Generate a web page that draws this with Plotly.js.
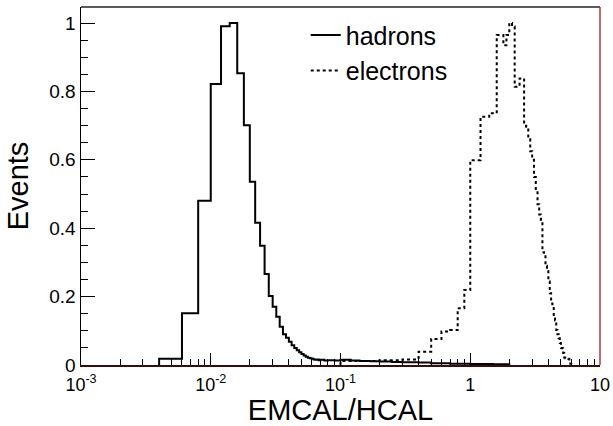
<!DOCTYPE html>
<html>
<head>
<meta charset="utf-8">
<script src="https://cdn.plot.ly/plotly-3.0.1.min.js"></script>
<style>
  html, body { margin: 0; padding: 0; background: #fff; }
  #chart { width: 613px; height: 426px; }
</style>
</head>
<body>
<div id="chart"></div>
<script>
// ---- data ----
var seriesNames = ["hadrons", "electrons"];

var hadronEdges = [0.004, 0.006, 0.008, 0.010, 0.012, 0.014, 0.016, 0.018, 0.020, 0.022,
  0.024, 0.026, 0.028, 0.030, 0.032, 0.034, 0.036, 0.038, 0.040, 0.042,
  0.044, 0.046, 0.048, 0.050, 0.052, 0.054, 0.056, 0.058, 0.060, 0.062,
  0.064, 0.066, 0.068, 0.070, 0.075, 0.080, 0.090, 0.100, 0.12, 0.14,
  0.17, 0.20, 0.25, 0.30, 0.40, 0.50, 0.70, 1.0, 1.5, 2.0];
var hadronCounts = [0.018, 0.151, 0.480, 0.822, 0.991, 1.000, 0.853, 0.701, 0.536, 0.416,
  0.349, 0.266, 0.202, 0.170, 0.141, 0.112, 0.090, 0.080, 0.068, 0.058,
  0.050, 0.043, 0.037, 0.032, 0.028, 0.024, 0.021, 0.020, 0.018, 0.016,
  0.015, 0.016, 0.014, 0.015, 0.013, 0.014, 0.013, 0.015, 0.013, 0.012,
  0.011, 0.010, 0.009, 0.008, 0.007, 0.005, 0.004, 0.003, 0.002];

var electronEdges = [0.1, 0.2, 0.3, 0.4, 0.5, 0.6, 0.7, 0.8, 0.9, 1.0,
  1.1, 1.2, 1.3, 1.4, 1.5, 1.6, 1.7, 1.8, 1.9, 2.0,
  2.1, 2.2, 2.3, 2.4, 2.5, 2.6, 2.7, 2.8, 2.9, 3.0,
  3.1, 3.2, 3.3, 3.4, 3.5, 3.6, 3.7, 3.8, 3.9, 4.0,
  4.1, 4.2, 4.3, 4.4, 4.5, 4.6, 4.7, 4.8, 4.9, 5.0,
  5.1, 5.2, 5.3, 5.4, 5.5, 5.6, 5.7, 5.8, 5.9, 6.0];
var electronCounts = [0.012, 0.014, 0.016, 0.039, 0.076, 0.098, 0.102, 0.166, 0.219,
  0.599, 0.599, 0.726, 0.726, 0.736, 0.736, 0.965, 0.965, 0.935, 0.965,
  1.000, 0.990, 0.814, 0.814, 0.838, 0.838, 0.700, 0.697, 0.660, 0.625,
  0.600, 0.550, 0.515, 0.470, 0.440, 0.425, 0.330, 0.322, 0.290, 0.280,
  0.244, 0.210, 0.180, 0.170, 0.136, 0.130, 0.102, 0.090, 0.078, 0.064,
  0.050, 0.049, 0.035, 0.022, 0.020, 0.020, 0.020, 0.018, 0.008, 0.004];

var xTickVals = [0.001, 0.01, 0.1, 1, 10];
var xTickText = ["10<sup>-3</sup>", "10<sup>-2</sup>", "10<sup>-1</sup>", "1", "10"];
var yTickVals = [0, 0.2, 0.4, 0.6, 0.8, 1];
var yTickText = ["0", "0.2", "0.4", "0.6", "0.8", "1"];

// build step outline (ROOT-like histogram) from edges and bin contents
function stepOutline(edges, counts) {
  var xs = [edges[0]], ys = [0];
  for (var i = 0; i < counts.length; i++) { xs.push(edges[i]); ys.push(counts[i]); }
  xs.push(edges[edges.length - 1]); ys.push(0);
  return {x: xs, y: ys};
}

var h = stepOutline(hadronEdges, hadronCounts);
var e = stepOutline(electronEdges, electronCounts);

var FONT = "Liberation Sans, Arial, Helvetica, sans-serif";

var traces = [
  {x: h.x, y: h.y, type: "scatter", mode: "lines", name: seriesNames[0],
   line: {shape: "hv", color: "#000", width: 2}},
  {x: e.x, y: e.y, type: "scatter", mode: "lines", name: seriesNames[1],
   line: {shape: "hv", color: "#000", width: 2, dash: "3px,3px"}}
];

var layout = {
  width: 613, height: 426,
  margin: {l: 81, r: 13, t: 7, b: 61, pad: 0},
  paper_bgcolor: "#fff", plot_bgcolor: "#fff",
  font: {family: FONT, color: "#000"},
  showlegend: true,
  legend: {x: 0.433, y: 0.985, xanchor: "left", yanchor: "top",
           bgcolor: "rgba(0,0,0,0)", font: {size: 25, family: FONT},
           tracegroupgap: 0, itemwidth: 30},
  xaxis: {type: "log", range: [-3, 1], showgrid: false, zeroline: false,
          showline: true, linecolor: "#3a0c0c", linewidth: 2,
          ticks: "inside", ticklen: 12, tickwidth: 1, tickcolor: "#000",
          tickvals: xTickVals, ticktext: xTickText, ticklabelstandoff: 2,
          tickfont: {size: 18, family: FONT},
          minor: {ticks: "inside", ticklen: 6, tickwidth: 1, tickcolor: "#000", dtick: "D1", showgrid: false},
          title: {text: "EMCAL/HCAL", font: {size: 29, family: FONT}, standoff: 3}},
  yaxis: {range: [0, 1.047], showgrid: false, zeroline: false,
          showline: true, linecolor: "#000", linewidth: 1.5,
          ticks: "inside", ticklen: 14, tickwidth: 1, tickcolor: "#000",
          tickvals: yTickVals, ticktext: yTickText,
          tickfont: {size: 19, family: FONT},
          minor: {ticks: "inside", ticklen: 7, tickwidth: 1, tickcolor: "#000", dtick: 0.05, showgrid: false},
          title: {text: "Events", font: {size: 29, family: FONT}, standoff: 12}},
  shapes: [
    {type: "line", xref: "paper", yref: "paper", x0: 0, x1: 1, y0: 1, y1: 1,
     line: {color: "#222", width: 1.5}},
    {type: "line", xref: "paper", yref: "paper", x0: 1, x1: 1, y0: 0, y1: 1,
     line: {color: "#b03838", width: 1.5}}
  ]
};

Plotly.newPlot("chart", traces, layout, {staticPlot: true, displayModeBar: false});
</script>
</body>
</html>
